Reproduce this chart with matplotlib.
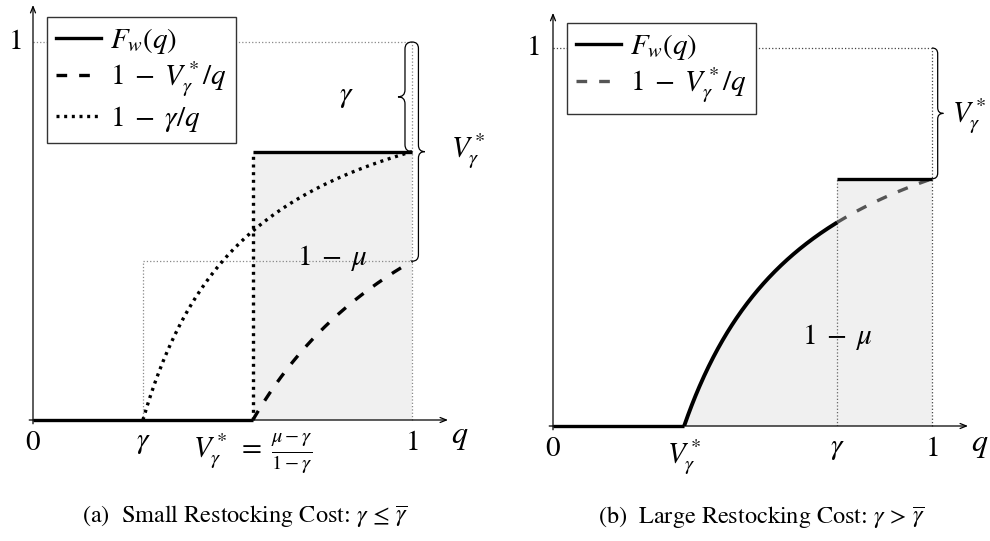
import numpy as np
import matplotlib
matplotlib.use('Agg')
import matplotlib.pyplot as plt
from matplotlib.path import Path
from matplotlib.patches import PathPatch
from matplotlib.lines import Line2D

plt.rcParams['mathtext.fontset'] = 'stix'
plt.rcParams['font.family'] = ['STIXGeneral', 'DejaVu Serif']

# ---------------- values ----------------
# Panel (a): small restocking cost
gamma_a = 0.29          # gamma
vstar_a = 0.58          # V*_gamma = (mu - gamma)/(1 - gamma)
level_a = 0.71          # F_w jump level (= 1 - gamma)
# Panel (b): large restocking cost
gamma_b = 0.75
vstar_b = 0.346
level_b = 0.654         # F_w level on [gamma, 1] (= 1 - V*)

legend_a = [r'$F_w(q)$', r'$1\;-\;V_\gamma^*/q$', r'$1\;-\;\gamma/q$']
legend_b = [r'$F_w(q)$', r'$1\;-\;V_\gamma^*/q$']
xticks_a = [(0.0, r'$0$'), (gamma_a, r'$\gamma$'),
            (vstar_a, r'$V_\gamma^*\;=\;\frac{\mu - \gamma}{1 - \gamma}$'), (1.0, r'$1$')]
xticks_b = [(0.0, r'$0$'), (vstar_b, r'$V_\gamma^*$'), (gamma_b, r'$\gamma$'), (1.0, r'$1$')]
captions = [r'(a)  Small Restocking Cost: $\gamma\,\leq\,\overline{\gamma}$',
            r'(b)  Large Restocking Cost: $\gamma\,>\,\overline{\gamma}$']

W, H = 990, 541
fig = plt.figure(figsize=(9.9, 5.41), dpi=100)
SHADE = '#f0f0f0'
FS = 21
LW = 2.4


def make_ax(x0, x1, y0, y1):
    ax = fig.add_axes([x0 / W, 1 - y0 / H, (x1 - x0) / W, (y0 - y1) / H])
    ax.set_xlim(0, 1)
    ax.set_ylim(0, 1)
    ax.axis('off')
    return ax


def axes_arrows(ax, xe, ye):
    ap = dict(arrowstyle='->,head_length=0.45,head_width=0.18', lw=0.9, color='k',
              shrinkA=0, shrinkB=0)
    ax.annotate('', xy=(xe, 0), xytext=(-0.01, 0), arrowprops=ap, annotation_clip=False)
    ax.annotate('', xy=(0, ye), xytext=(0, -0.01), arrowprops=ap, annotation_clip=False)


def brace(ax, xb, y0, y1, s, w):
    r = w / 2.0
    ym = (y0 + y1) / 2.0
    ry = r
    verts = [(xb, y0),
             (xb + s * r, y0), (xb + s * r, y0 - ry),
             (xb + s * r, ym + ry),
             (xb + s * r, ym), (xb + s * w, ym),
             (xb + s * r, ym), (xb + s * r, ym - ry),
             (xb + s * r, y1 + ry),
             (xb + s * r, y1), (xb, y1)]
    codes = [Path.MOVETO, Path.CURVE3, Path.CURVE3, Path.LINETO,
             Path.CURVE3, Path.CURVE3, Path.CURVE3, Path.CURVE3,
             Path.LINETO, Path.CURVE3, Path.CURVE3]
    ax.add_patch(PathPatch(Path(verts, codes), fill=False, lw=0.9, color='k',
                           clip_on=False, zorder=5))


def ticks(ax, items, ytop):
    for x, t in items:
        ax.text(x, ytop, t, ha='center', va='top', fontsize=FS)


dot_style = (0, (0.9, 1.4))
dash_style = (0, (3.2, 3.6))

# ---------------- Panel (a) ----------------
ax = make_ax(33, 412, 420, 42)
axes_arrows(ax, 1.095, 1.098)
ax.fill_between([vstar_a, 1.0], 0, level_a, color=SHADE, lw=0, zorder=0)
# reference dotted guides
ax.plot([0, 1], [1, 1], ls=':', color='#888888', lw=0.9, clip_on=False, zorder=1)
ax.plot([1, 1], [0, 1], ls=':', color='#888888', lw=0.9, clip_on=False, zorder=1)
ax.plot([gamma_a, 1], [1 - vstar_a, 1 - vstar_a], ls=':', color='#888888', lw=0.9, zorder=1)
ax.plot([gamma_a, gamma_a], [0, 1 - vstar_a], ls=':', color='#888888', lw=0.9, zorder=1)
# curves
qg = np.linspace(gamma_a, 1, 200)
ax.plot(qg, 1 - gamma_a / qg, color='k', lw=LW, ls=dot_style, zorder=3, clip_on=False)
ax.plot([vstar_a, vstar_a], [0, level_a], color='k', lw=LW, ls=dot_style, zorder=3)
qv = np.linspace(vstar_a, 1, 200)
ax.plot(qv, 1 - vstar_a / qv, color='k', lw=LW, ls=dash_style, zorder=3, clip_on=False)
ax.plot([0, vstar_a], [0, 0], color='k', lw=LW, solid_capstyle='butt', zorder=4, clip_on=False)
ax.plot([vstar_a, 1], [level_a, level_a], color='k', lw=LW, solid_capstyle='butt', zorder=4, clip_on=False)
# braces and labels
brace(ax, 1.0, 1.0, level_a, -1, 0.037)
brace(ax, 1.0, 1.0, 1 - vstar_a, 1, 0.034)
ax.text(0.828, 0.854, r'$\gamma$', ha='center', va='center', fontsize=FS)
ax.text(1.148, 0.71, r'$V_\gamma^*$', ha='center', va='center', fontsize=FS)
ax.text(0.79, 0.428, r'$1\;-\;\mu$', ha='center', va='center', fontsize=FS, zorder=6)
ax.text(-0.048, 1.0, r'$1$', ha='center', va='center', fontsize=FS)
ticks(ax, xticks_a, -0.03)
ax.text(1.125, -0.045, r'$q$', ha='center', va='center', fontsize=FS + 2)
hA = [Line2D([], [], color='k', lw=LW),
      Line2D([], [], color='k', lw=LW, ls=dash_style),
      Line2D([], [], color='k', lw=LW, ls=dot_style)]
ax.legend(hA, legend_a, loc='upper left', bbox_to_anchor=(0.037, 1.066), borderaxespad=0,
          fontsize=FS, frameon=True, fancybox=False, edgecolor='#333333', framealpha=1,
          handlelength=1.55, handletextpad=0.3, labelspacing=0.15, borderpad=0.3)

# ---------------- Panel (b) ----------------
ax = make_ax(553, 932, 426, 48)
axes_arrows(ax, 1.095, 1.093)
q1 = np.linspace(vstar_b, gamma_b, 200)
ax.fill_between(q1, 0, 1 - vstar_b / q1, color=SHADE, lw=0, zorder=0)
ax.fill_between([gamma_b, 1.0], 0, level_b, color=SHADE, lw=0, zorder=0)
ax.plot([0, 1], [1, 1], ls=':', color='#444444', lw=0.9, clip_on=False, zorder=1)
ax.plot([1, 1], [0, 1], ls=':', color='#444444', lw=0.9, clip_on=False, zorder=1)
ax.plot([gamma_b, gamma_b], [0, level_b], ls=':', color='#666666', lw=0.9, zorder=1)
q2 = np.linspace(gamma_b, 1, 100)
ax.plot(q2, 1 - vstar_b / q2, color='#555555', lw=LW, ls=dash_style, zorder=3, clip_on=False)
ax.plot([0, vstar_b], [0, 0], color='k', lw=LW, solid_capstyle='butt', zorder=4, clip_on=False)
ax.plot(q1, 1 - vstar_b / q1, color='k', lw=LW + 0.4, solid_capstyle='butt', zorder=4)
ax.plot([gamma_b, 1], [level_b, level_b], color='k', lw=LW, solid_capstyle='butt', zorder=4, clip_on=False)
brace(ax, 1.0, 1.0, level_b, 1, 0.03)
ax.text(1.098, 0.82, r'$V_\gamma^*$', ha='center', va='center', fontsize=FS)
ax.text(0.75, 0.235, r'$1\;-\;\mu$', ha='center', va='center', fontsize=FS, zorder=6)
ax.text(-0.053, 1.0, r'$1$', ha='center', va='center', fontsize=FS)
ticks(ax, xticks_b, -0.03)
ax.text(1.125, -0.05, r'$q$', ha='center', va='center', fontsize=FS + 2)
hB = [Line2D([], [], color='k', lw=LW),
      Line2D([], [], color='#555555', lw=LW, ls=dash_style)]
ax.legend(hB, legend_b, loc='upper left', bbox_to_anchor=(0.037, 1.066), borderaxespad=0,
          fontsize=FS, frameon=True, fancybox=False, edgecolor='#333333', framealpha=1,
          handlelength=1.55, handletextpad=0.3, labelspacing=0.15, borderpad=0.3)

# captions
fig.text(245 / W, 1 - 517 / H, captions[0], ha='center', va='center', fontsize=17.5)
fig.text(762 / W, 1 - 518 / H, captions[1], ha='center', va='center', fontsize=17.5)

fig.savefig('out.png', dpi=100)
